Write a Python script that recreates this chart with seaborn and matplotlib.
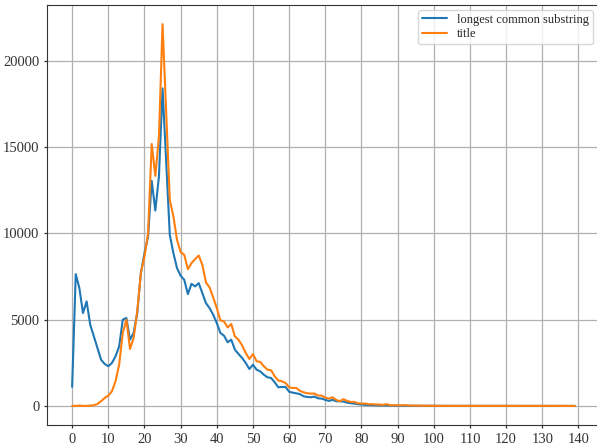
import numpy as np
import pandas as pd
import matplotlib
matplotlib.use('Agg')
import matplotlib.pyplot as plt
import seaborn as sns

# ===== data =====
lengths = list(range(140))

lcs_counts = [
    1100, 7640, 6830, 5385, 6060, 4710, 4030, 3360, 2680, 2430,
    2300, 2490, 2875, 3450, 5000, 5100, 3840, 4230, 5380, 7700,
    8860, 9820, 13050, 11330, 13300, 18410, 14100, 9920, 8860, 7990,
    7550, 7310, 6480, 7080, 6930, 7120, 6540, 5960, 5670, 5290,
    4800, 4230, 4070, 3690, 3840, 3260, 3010, 2780, 2490, 2140,
    2390, 2100, 2000, 1810, 1660, 1620, 1370, 1080, 1100, 1100,
    820, 770, 730, 680, 560, 520, 500, 540, 440, 425,
    350, 290, 350, 270, 270, 250, 190, 155, 135, 100,
    80, 60, 50, 40, 35, 30, 25, 20, 18, 15,
    12, 10, 9, 8, 7, 6, 5, 5, 4, 4,
    3, 3, 3, 2, 2, 2, 2, 2, 1, 1,
    1, 1, 1, 1, 1, 1, 1, 1, 1, 1,
    0, 0, 0, 0, 0, 0, 0, 0, 0, 0,
    0, 0, 0, 0, 0, 0, 0, 0, 0, 0,
]

title_counts = [
    0, 0, 20, 0, 0, 20, 40, 110, 270, 460,
    600, 850, 1430, 2390, 4230, 5000, 3300, 3940, 5480, 7700,
    8670, 10020, 15190, 13340, 15610, 22140, 17000, 11950, 10980, 9630,
    8920, 8760, 7930, 8280, 8510, 8720, 8180, 7160, 6870, 6290,
    5670, 4960, 4900, 4550, 4750, 4030, 3840, 3510, 3070, 2720,
    3010, 2590, 2550, 2300, 2100, 2070, 1720, 1470, 1430, 1330,
    1080, 1040, 1040, 870, 790, 730, 715, 715, 600, 600,
    480, 425, 500, 350, 270, 390, 290, 230, 230, 155,
    135, 135, 100, 100, 80, 80, 60, 100, 40, 40,
    35, 30, 45, 25, 20, 15, 12, 10, 8, 7,
    6, 5, 5, 4, 4, 3, 3, 3, 2, 2,
    2, 2, 1, 1, 1, 1, 1, 1, 1, 1,
    1, 1, 0, 0, 0, 0, 0, 0, 0, 0,
    0, 0, 0, 0, 0, 0, 0, 0, 0, 0,
]

series_names = ['longest common substring', 'title']
colors = ['#1f77b4', '#ff7f0e']

# ===== long-form table =====
df = pd.concat([
    pd.DataFrame({'length': lengths, 'count': lcs_counts, 'kind': series_names[0]}),
    pd.DataFrame({'length': lengths, 'count': title_counts, 'kind': series_names[1]}),
], ignore_index=True)

sns.set_style('ticks', {'axes.grid': True, 'grid.color': '#b0b0b0',
                        'axes.edgecolor': '#333333'})
plt.rcParams['font.family'] = ['Liberation Serif', 'DejaVu Serif']

fig = plt.figure(figsize=(5.97, 4.45), dpi=100)
# axes runs slightly past the right edge, like the cropped original
ax = fig.add_axes([47 / 597, 20 / 445, 553 / 597, 420 / 445])

sns.lineplot(data=df, x='length', y='count', hue='kind', hue_order=series_names,
             palette=colors, linewidth=1.5, ax=ax)

ax.set_xticks(range(0, 141, 10))
ax.set_yticks(range(0, 20001, 5000))
ax.grid(True, color='#b0b0b0', linewidth=0.9)
ax.set_xlabel('')
ax.set_ylabel('')
ax.tick_params(labelsize=10.5, colors='#333333', length=2.5, width=0.9, pad=3)
ax.legend(loc='upper right', fontsize=9, framealpha=0.8,
          labelspacing=0.2, borderpad=0.3, handlelength=2.0,
          handletextpad=0.8, borderaxespad=0,
          bbox_to_anchor=(0.987, 0.988))

fig.savefig('out.png', dpi=100)
